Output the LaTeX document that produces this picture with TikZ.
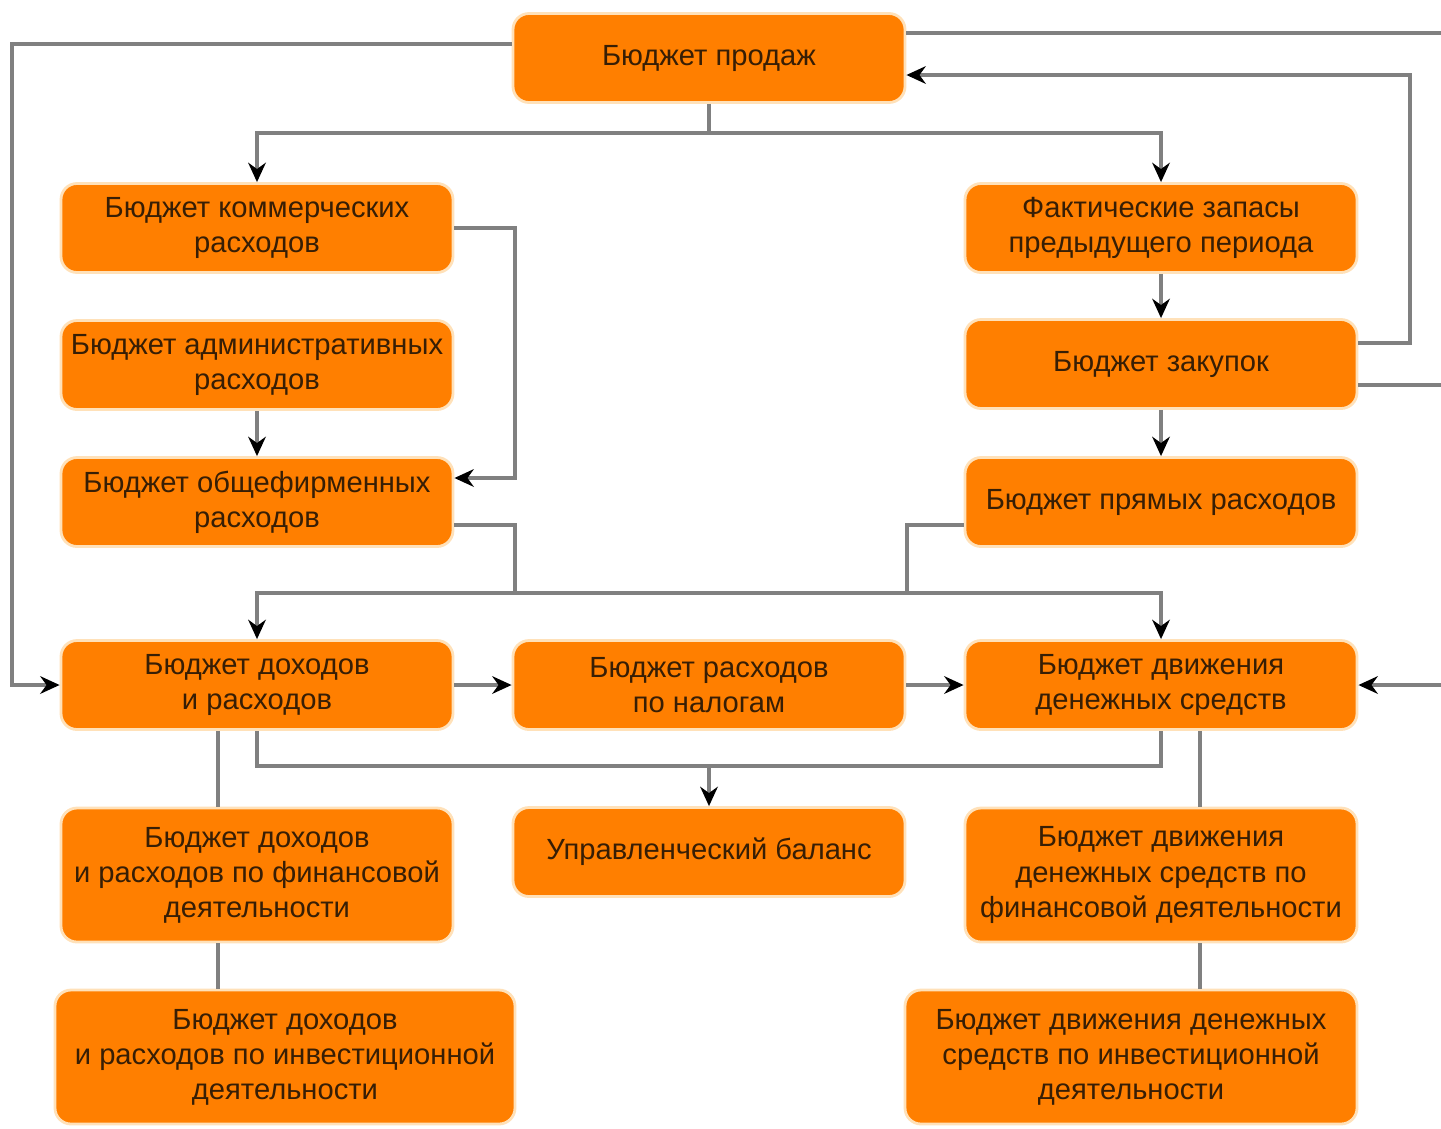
\documentclass[tikz,border=0pt]{standalone}
\usepackage{fontspec}
\setmainfont{Liberation Sans}
\usetikzlibrary{arrows.meta}
\definecolor{boxorange}{RGB}{255,127,0}
\definecolor{boxrim}{RGB}{255,225,185}
\definecolor{linegray}{RGB}{128,128,128}
\definecolor{boxtext}{RGB}{55,30,5}
\begin{document}
\begin{tikzpicture}[
        budget/.style={rectangle, rounded corners=0.16cm, fill=boxorange, draw=boxrim,
            line width=0.8pt, text=boxtext, align=center, inner sep=0pt,
            font=\fontsize{8.3}{10}\selectfont, minimum width=3.92cm, minimum height=0.89cm},
        tall/.style={minimum height=1.34cm},
        link/.style={draw=linegray, line width=0.9pt},
        arr/.style={link, -{Stealth[black, length=5.5pt, width=5pt]}}
    ]
    \useasboundingbox (0,0) rectangle (14.41,-11.28);

    \begin{scope}[every node/.style={budget}]
        \node (prod) at (7.09,-0.58) {Бюджет продаж};

        \node (komm) at (2.57,-2.28) {Бюджет коммерческих\\расходов};
        \node (adm) at (2.57,-3.65) {Бюджет административных\\расходов};
        \node (obsh) at (2.57,-5.02) {Бюджет общефирменных\\расходов};

        \node (fakt) at (11.61,-2.28) {Фактические запасы\\предыдущего периода};
        \node (zak) at (11.61,-3.64) {Бюджет закупок};
        \node (pryam) at (11.61,-5.02) {Бюджет прямых расходов};

        \node (dir) at (2.57,-6.85) {Бюджет доходов\\и расходов};
        \node (nal) at (7.09,-6.85) {Бюджет расходов\\по налогам};
        \node (dds) at (11.61,-6.85) {Бюджет движения\\денежных средств};

        \node (upr) at (7.09,-8.52) {Управленческий баланс};
        \node[tall] (dirfin) at (2.57,-8.75) {Бюджет доходов\\и расходов по финансовой\\деятельности};
        \node[tall] (ddsfin) at (11.61,-8.75) {Бюджет движения\\денежных средств по\\финансовой деятельности};

        \node[tall, minimum width=4.60cm] (dirinv) at (2.85,-10.57) {Бюджет доходов\\и расходов по инвестиционной\\деятельности};
        \node[tall, minimum width=4.52cm] (ddsinv) at (11.31,-10.57) {Бюджет движения денежных\\средств по инвестиционной\\деятельности};
    \end{scope}

    % points where the lines turn
    \coordinate (topbus) at (7.09,-1.33);
    \coordinate (lft) at (0.12,-0.44);
    \coordinate (loop) at (14.10,-0.75);
    \coordinate (edgea) at (14.41,-0.33);
    \coordinate (edgeb) at (14.41,-3.85);
    \coordinate (edgec) at (14.41,-6.85);
    \coordinate (kturn) at (5.15,-4.78);
    \coordinate (busl) at (5.15,-5.93);
    \coordinate (busr) at (9.07,-5.93);
    \coordinate (lowl) at (2.57,-7.66);
    \coordinate (lowm) at (7.09,-7.66);
    \coordinate (lowr) at (11.61,-7.66);
    \coordinate (lv) at (2.18,0);
    \coordinate (rv) at (12.00,0);

    % top
    \draw[link] (prod) -- (topbus);
    \draw[arr] (topbus) -| (komm);
    \draw[arr] (topbus) -| (fakt);
    \draw[arr] (prod.west |- lft) -- (lft) |- (dir);
    \draw[link] (prod.east |- edgea) -- (edgea);
    \draw[arr] (zak.east |- 0,-3.43) -| (loop) -- (prod.east |- loop);
    \draw[link] (zak.east |- edgeb) -- (edgeb);

    % columns
    \draw[arr] (fakt) -- (zak);
    \draw[arr] (zak) -- (pryam);
    \draw[arr] (adm) -- (obsh);
    \draw[arr] (komm.east) -| (kturn) -- (obsh.east |- kturn);

    % middle bus
    \draw[link] (obsh.east |- 0,-5.25) -| (busl);
    \draw[link] (pryam.west |- 0,-5.25) -| (busr);
    \draw[link] (busl) -- (busr);
    \draw[arr] (busl) -| (dir);
    \draw[arr] (busr) -| (dds);

    % middle row
    \draw[arr] (dir) -- (nal);
    \draw[arr] (nal) -- (dds);
    \draw[arr] (edgec) -- (dds);

    % lower bus
    \draw[link] (dir.south) -- (lowl) -- (lowr) -- (dds.south);
    \draw[arr] (lowm) -- (upr);

    \draw[link] (lv |- dir.south) -- (lv |- dirfin.north);
    \draw[link] (lv |- dirfin.south) -- (lv |- dirinv.north);
    \draw[link] (rv |- dds.south) -- (rv |- ddsfin.north);
    \draw[link] (rv |- ddsfin.south) -- (rv |- ddsinv.north);
\end{tikzpicture}
\end{document}
